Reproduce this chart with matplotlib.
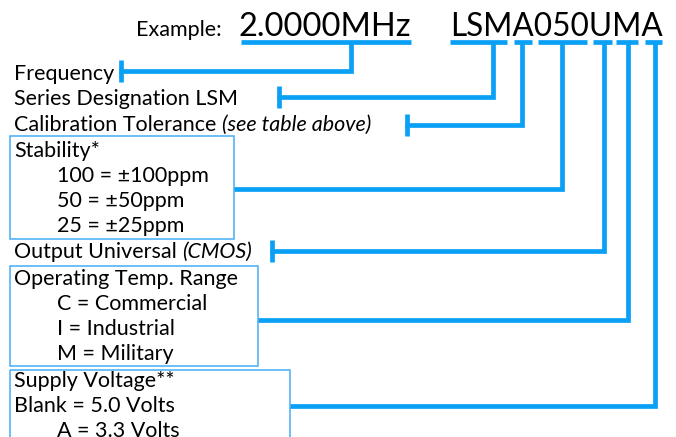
import matplotlib
matplotlib.use("Agg")
import matplotlib.pyplot as plt
from matplotlib.patches import Rectangle

# ---------------- content ----------------
example_label = "Example:"
freq_code = "2.0000MHz"
part_code = "LSMA050UMA"

# code segments: (start x, end x) of each underline, x of the drop line, y of the horizontal run
seg_x0 = [241, 450, 514, 538, 593, 616, 645]
seg_x1 = [411, 507, 532, 587, 612, 638, 662]
drop_x = [351, 493, 522, 562, 604, 628, 655]
run_y = [71, 97, 125, 189, 251, 320, 406]
run_end_x = [119, 277, 405, 234, 270, 258, 290]
has_cap = [True, True, True, False, True, False, False]

# text lines: (normal part, italic part, indent flag, baseline y)
line_main = ["Frequency", "Series Designation LSM", "Calibration Tolerance ",
             "Stability*", "100 = \u00b1100ppm", "50 = \u00b150ppm", "25 = \u00b125ppm",
             "Output Universal ", "Operating Temp. Range", "C = Commercial",
             "I = Industrial", "M = Military", "Supply Voltage**",
             "Blank = 5.0 Volts", "A = 3.3 Volts"]
line_italic = ["", "", "(see table above)", "", "", "", "", "(CMOS)",
               "", "", "", "", "", "", ""]
line_indent = [0, 0, 0, 0, 1, 1, 1, 0, 0, 1, 1, 1, 0, 0, 1]
line_base = [80, 105, 131, 157, 182, 207, 232, 258, 285, 310, 335, 360, 387, 412, 437]

# boxes: (x0, y0, x1, y1)
box_x0 = [10, 10, 10]
box_y0 = [136, 266, 370]
box_x1 = [234, 258, 290]
box_y1 = [239, 366, 450]

# ---------------- style ----------------
W, H = 676, 437
LINE_C = "#0aa0f5"
BOX_C = "#45aef5"
TXT_C = "#000000"
FONT = "Lato"
BODY_FS = 15.5
BIG_FS = 22
LW = 3.4

fig = plt.figure(figsize=(W / 100, H / 100), dpi=100)
ax = fig.add_axes([0, 0, 1, 1])
ax.set_xlim(0, W)
ax.set_ylim(H, 0)
ax.axis("off")
r = fig.canvas.get_renderer()
inv = ax.transData.inverted()


def x_end(t):
    bb = t.get_window_extent(renderer=r)
    return inv.transform((bb.x1, bb.y0))[0]


def width(t):
    bb = t.get_window_extent(renderer=r)
    return bb.width


# header texts, scaled to match widths
t1 = ax.text(238, 36, freq_code, fontsize=BIG_FS, family=FONT, color=TXT_C, va="baseline")
t1.set_fontsize(BIG_FS * 172 / width(t1))
t2 = ax.text(450, 36, part_code, fontsize=BIG_FS, family=FONT, color=TXT_C, va="baseline")
t2.set_fontsize(BIG_FS * 212 / width(t2))
ax.text(222, 36, example_label, fontsize=BODY_FS, family=FONT, color=TXT_C,
        va="baseline", ha="right")

# body text
for m, it, ind, yb in zip(line_main, line_italic, line_indent, line_base):
    x0 = 57 if ind else 14
    t = ax.text(x0, yb, m, fontsize=BODY_FS, family=FONT, color=TXT_C, va="baseline",
                clip_on=False)
    if it:
        xe = x_end(t)
        ax.text(xe, yb, it, fontsize=BODY_FS, family=FONT, style="italic",
                color=TXT_C, va="baseline")

# boxes
for a, b, c, d in zip(box_x0, box_y0, box_x1, box_y1):
    ax.add_patch(Rectangle((a, b), c - a, d - b, fill=False, edgecolor=BOX_C, lw=1.1))

# connector lines
UY = 41.5
for a, b, dx, ry, ex, cap in zip(seg_x0, seg_x1, drop_x, run_y, run_end_x, has_cap):
    ax.plot([a, b], [UY, UY], color=LINE_C, lw=LW, solid_capstyle="butt")
    ax.plot([dx, dx, ex], [UY, ry, ry], color=LINE_C, lw=LW,
            solid_capstyle="butt", solid_joinstyle="miter")
    if cap:
        ax.plot([ex + 1.5, ex + 1.5], [ry - 11, ry + 11], color=LINE_C, lw=LW,
                solid_capstyle="butt")

fig.savefig("out.png", dpi=100)
